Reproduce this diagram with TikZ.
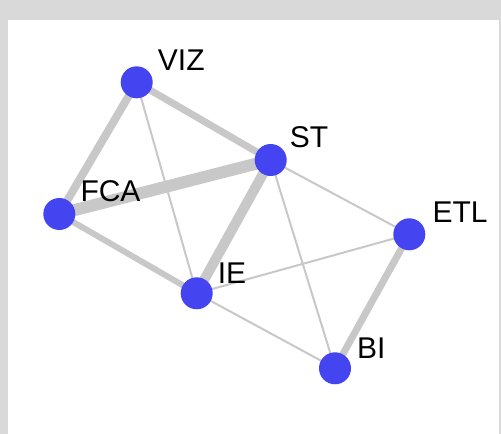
\documentclass[tikz,border=0pt]{standalone}
\usepackage{fontspec}
\setmainfont{Liberation Sans}
\definecolor{nodeblue}{RGB}{68,68,240}
\definecolor{edgegray}{RGB}{200,200,200}
\definecolor{framegray}{RGB}{217,217,217}
\begin{document}
\begin{tikzpicture}[x=1pt,y=1pt,
  vertex/.style={circle,fill=nodeblue,minimum size=32pt,inner sep=0pt},
  lbl/.style={anchor=base west,font=\fontsize{30}{30}\selectfont,inner sep=0pt,text=black},
  edge/.style={draw=edgegray}]
\useasboundingbox (0,0) rectangle (501,434);
\fill[framegray] (0,0) rectangle (501,434);
\fill[white] (8,0) rectangle (499,414);
\coordinate (cVIZ) at (136.7,351.7);
\coordinate (cST) at (270.7,274);
\coordinate (cFCA) at (59.3,220);
\coordinate (cIE) at (196.7,140.7);
\coordinate (cETL) at (409.3,199.7);
\coordinate (cBI) at (335,65.7);
\draw[edge,line width=8pt] (cVIZ) -- (cFCA);
\draw[edge,line width=7pt] (cVIZ) -- (cST);
\draw[edge,line width=2pt] (cVIZ) -- (cIE);
\draw[edge,line width=12pt] (cFCA) -- (cST);
\draw[edge,line width=6pt] (cFCA) -- (cIE);
\draw[edge,line width=10pt] (cST) -- (cIE);
\draw[edge,line width=2pt] (cST) -- (cETL);
\draw[edge,line width=2pt] (cST) -- (cBI);
\draw[edge,line width=2pt] (cIE) -- (cETL);
\draw[edge,line width=2pt] (cIE) -- (cBI);
\draw[edge,line width=7pt] (cETL) -- (cBI);
\node[vertex] (VIZ) at (cVIZ) {};
\node[vertex] (ST) at (cST) {};
\node[vertex] (FCA) at (cFCA) {};
\node[vertex] (IE) at (cIE) {};
\node[vertex] (ETL) at (cETL) {};
\node[vertex] (BI) at (cBI) {};
\node[lbl] (lVIZ) at ([shift={(21,12)}]VIZ.center) {VIZ};
\node[lbl] (lST) at ([shift={(19,12)}]ST.center) {ST};
\node[lbl] (lFCA) at ([shift={(21,12)}]FCA.center) {FCA};
\node[lbl] (lIE) at ([shift={(21,10)}]IE.center) {IE};
\node[lbl] (lETL) at ([shift={(23,12)}]ETL.center) {ETL};
\node[lbl] (lBI) at ([shift={(22,10)}]BI.center) {BI};
\end{tikzpicture}
\end{document}
